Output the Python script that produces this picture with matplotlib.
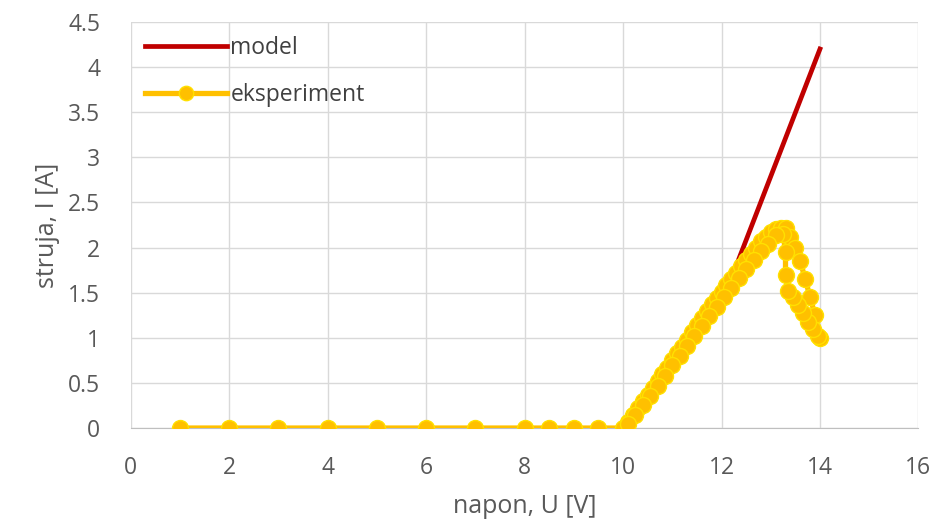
import matplotlib.pyplot as plt

plt.rcParams['font.family'] = ['Open Sans', 'DejaVu Sans']

# model line
model_u = [12.3, 14.0]
model_i = [1.8, 4.2]

# measurement: flat part, rising part, the loop near the peak, and the way back down
exp_u = [1, 2, 3, 4, 5, 6, 7, 8, 8.5, 9, 9.5,
         10.0, 10.1, 10.2, 10.3, 10.4, 10.5, 10.6, 10.7, 10.8, 10.9,
         11.0, 11.1, 11.2, 11.3, 11.4, 11.5, 11.6, 11.7, 11.8, 11.9,
         12.0, 12.1, 12.2, 12.3, 12.4, 12.5, 12.6, 12.7, 12.8, 12.9,
         13.0, 13.1, 13.2, 13.3,
         13.4, 13.5, 13.6, 13.7, 13.8, 13.9, 14.0,
         13.95, 13.85, 13.75, 13.65, 13.55, 13.45, 13.35, 13.3, 13.3, 13.25,
         13.1, 12.95, 12.8, 12.65, 12.5, 12.35, 12.2, 12.05, 11.9, 11.75,
         11.6, 11.45, 11.3, 11.15, 11.0, 10.85, 10.7, 10.55, 10.4, 10.25, 10.1]
exp_i = [0, 0, 0, 0, 0, 0, 0, 0, 0, 0, 0,
         0.0, 0.07, 0.15, 0.22, 0.3, 0.37, 0.44, 0.52, 0.6, 0.67,
         0.75, 0.83, 0.9, 0.98, 1.06, 1.14, 1.22, 1.3, 1.37, 1.44,
         1.51, 1.58, 1.65, 1.72, 1.79, 1.86, 1.93, 2.0, 2.07, 2.12,
         2.17, 2.2, 2.22, 2.22,
         2.12, 2.0, 1.85, 1.65, 1.45, 1.25, 1.0,
         1.02, 1.1, 1.18, 1.27, 1.36, 1.45, 1.52, 1.7, 1.95, 2.15,
         2.14, 2.04, 1.96, 1.86, 1.76, 1.66, 1.55, 1.45, 1.34, 1.24,
         1.13, 1.02, 0.91, 0.8, 0.7, 0.58, 0.47, 0.36, 0.25, 0.14, 0.04]

fig = plt.figure(figsize=(9.41, 5.22), dpi=100)
ax = fig.add_axes([0.139, 0.18, 0.837, 0.778])

ax.plot(model_u, model_i, color='#C00000', lw=3.4, label='model', zorder=3)
ax.plot(exp_u, exp_i, color='#FFC000', lw=3.8, marker='o', ms=11.5,
        mfc='#FFC000', mec='#FFE000', mew=1.0, label='eksperiment', zorder=4)

ax.set_xlim(0, 16)
ax.set_ylim(0, 4.5)
ax.set_xticks(range(0, 17, 2))
ax.set_yticks([0, 0.5, 1, 1.5, 2, 2.5, 3, 3.5, 4, 4.5])
ax.set_yticklabels(['0', '0.5', '1', '1.5', '2', '2.5', '3', '3.5', '4', '4.5'])
ax.grid(True, color='#D9D9D9', lw=1)
ax.set_axisbelow(True)
for s in ['top', 'right', 'left']:
    ax.spines[s].set_visible(False)
ax.spines['bottom'].set_color('#BFBFBF')
ax.tick_params(length=0, labelsize=16.5, colors='#595959')
ax.tick_params(axis='y', pad=22)
ax.tick_params(axis='x', pad=20)

ax.set_xlabel('napon, U [V]', fontsize=18, color='#595959', labelpad=10)
ax.set_ylabel('struja, I [A]', fontsize=18, color='#595959', labelpad=6)

ax.legend(loc='upper left', frameon=False, fontsize=16.5, handlelength=3.6,
          handletextpad=0.15, labelspacing=1.0, borderaxespad=0.2,
          borderpad=0.4, labelcolor='#404040', markerscale=0.9)

fig.savefig('out.png', dpi=100)
